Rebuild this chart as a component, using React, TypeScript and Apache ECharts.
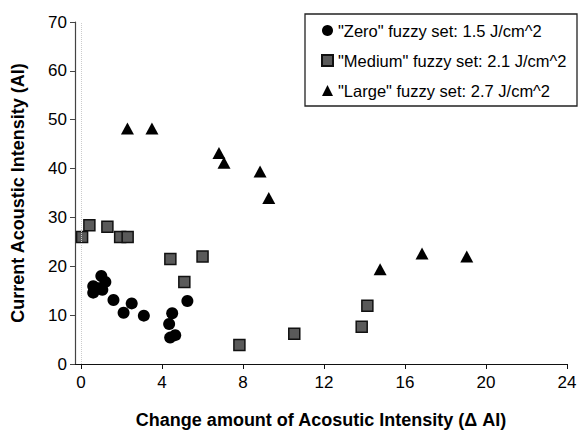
import React, { useEffect, useRef } from "react";
import * as echarts from "echarts";

const zeroX = [0.6, 0.6, 0.85, 1.0, 1.2, 1.05, 1.6, 2.1, 2.5, 3.1, 4.35, 4.5, 4.4, 4.65, 5.25];
const zeroY = [14.6, 15.9, 15.5, 18.0, 16.8, 15.2, 13.1, 10.5, 12.4, 9.9, 8.2, 10.4, 5.4, 5.9, 12.9];

const mediumX = [0.05, 0.41, 1.3, 1.93, 2.3, 4.41, 6.0, 5.1, 7.82, 10.53, 13.86, 14.14];
const mediumY = [26.0, 28.4, 28.1, 26.0, 26.0, 21.5, 22.0, 16.8, 3.9, 6.2, 7.6, 11.9];

const largeX = [2.29, 3.5, 6.81, 7.06, 8.84, 9.27, 14.77, 16.84, 19.05];
const largeY = [48.2, 48.2, 43.2, 41.2, 39.4, 34.0, 19.4, 22.6, 22.0];

const seriesNames = [
  '"Zero" fuzzy set: 1.5 J/cm^2',
  '"Medium" fuzzy set: 2.1 J/cm^2',
  '"Large" fuzzy set: 2.7 J/cm^2',
];

const xTicks = [0, 4, 8, 12, 16, 20, 24];
const xTitle = "Change amount of Acosutic Intensity (\u0394 AI)";
const yTitle = "Current Acoustic Intensity (AI)";

const pair = (xs: number[], ys: number[]) => xs.map((x, i) => [x, ys[i]]);

export default function App() {
  const ref = useRef<HTMLDivElement>(null);
  useEffect(() => {
    if (!ref.current) return;
    const chart = echarts.init(ref.current, null, { renderer: "svg" });
    const font = "'Liberation Sans', Arial, sans-serif";
    chart.setOption({
      animation: false,
      backgroundColor: "#fff",
      textStyle: { fontFamily: font },
      grid: { left: 75, right: 14, top: 22, bottom: 68, outerBoundsMode: "none", containLabel: false },
      xAxis: {
        type: "value",
        min: -0.3,
        max: 24,
        name: xTitle,
        nameLocation: "middle",
        nameGap: 47,
        nameTextStyle: { fontFamily: font, fontSize: 18, fontWeight: "bold", color: "#000" },
        axisLine: { onZero: false, lineStyle: { color: "#111", width: 1.2 } },
        axisTick: { show: true, inside: false, length: 5, customValues: xTicks, lineStyle: { color: "#111" } },
        axisLabel: { customValues: xTicks, fontSize: 17, color: "#000", margin: 10, fontFamily: font },
        splitLine: { show: false },
      },
      yAxis: {
        type: "value",
        min: 0,
        max: 70,
        interval: 10,
        name: yTitle,
        nameLocation: "middle",
        nameGap: 48,
        nameTextStyle: { fontFamily: font, fontSize: 18, fontWeight: "bold", color: "#000" },
        axisLine: { show: true, onZero: false, lineStyle: { color: "#444", width: 1.2 } },
        axisTick: { show: true, inside: false, length: 5, lineStyle: { color: "#444" } },
        axisLabel: { fontSize: 17, color: "#000", margin: 8, fontFamily: font },
        splitLine: { show: false },
      },
      legend: {
        orient: "vertical",
        left: 321,
        top: 21,
        padding: 0,
        itemGap: 11,
        itemWidth: 11,
        itemHeight: 11,
        textStyle: { fontFamily: font, fontSize: 16.5, color: "#000", lineHeight: 19 },
        data: seriesNames,
      },
      graphic: [
        {
          type: "rect",
          shape: { x: 305, y: 14, width: 272, height: 92 },
          style: { fill: "none", stroke: "#222", lineWidth: 1.3 },
          z: 0,
        },
      ],
      series: [
        {
          name: seriesNames[0],
          type: "scatter",
          symbol: "circle",
          symbolSize: 12,
          itemStyle: { color: "#000", opacity: 1 },
          data: pair(zeroX, zeroY),
          markLine: {
            silent: true,
            symbol: "none",
            label: { show: false },
            lineStyle: { type: "dotted", color: "#ccc", width: 1 },
            data: [{ xAxis: 0 }],
          },
        },
        {
          name: seriesNames[1],
          type: "scatter",
          symbol: "rect",
          symbolSize: 11,
          itemStyle: { color: "#5a5a5a", borderColor: "#111", borderWidth: 1.5, opacity: 1 },
          data: pair(mediumX, mediumY),
        },
        {
          name: seriesNames[2],
          type: "scatter",
          symbol: "triangle",
          symbolSize: [13, 12],
          itemStyle: { color: "#000", opacity: 1 },
          data: pair(largeX, largeY),
        },
      ],
    });
    return () => chart.dispose();
  }, []);
  return <div ref={ref} style={{ width: 581, height: 432, position: "absolute", left: 0, top: 0 }} />;
}
